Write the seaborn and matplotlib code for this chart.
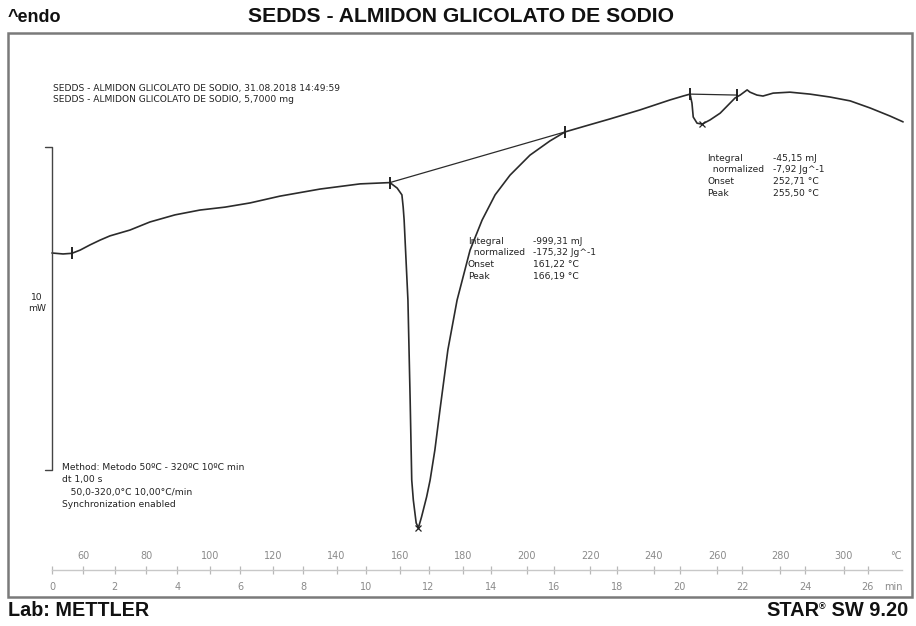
import numpy as np
import pandas as pd
import matplotlib
matplotlib.use("Agg")
import matplotlib.pyplot as plt
import seaborn as sns
from matplotlib.patches import Rectangle

# ---------------- data ----------------
temperature_c = [50.2, 53.7, 56.5, 59.1, 62.2, 65.4, 68.5, 74.8, 81.1, 89.0, 96.9, 104.8,
                 112.7, 122.1, 134.8, 147.4, 156.8, 159.1, 160.6, 161.0, 161.3, 161.9,
                 162.5, 163.2, 163.7, 164.2, 165.1, 165.8, 166.8, 168.4, 169.5, 171.0,
                 172.6, 175.1, 178.0, 182.1, 185.9, 190.0, 194.7, 201.0, 207.3, 212.1,
                 218.4, 226.2, 235.7, 245.2, 249.3, 251.5, 252.1, 252.5, 253.7, 255.3,
                 257.8, 261.0, 263.5, 265.7, 267.3, 269.5, 270.4, 272.6, 274.5, 277.7,
                 283.0, 289.3, 295.6, 302.0, 308.3, 314.6, 318.7]
heat_flow_mw = [0.00, -0.03, -0.01, 0.09, 0.25, 0.40, 0.53, 0.71, 0.96, 1.18, 1.33, 1.42,
                1.55, 1.76, 1.98, 2.14, 2.18, 2.01, 1.80, 1.42, 1.02, -0.22,
                -1.46, -4.55, -7.03, -7.65, -8.36, -8.51, -8.17, -7.55, -7.03, -6.10,
                -4.86, -3.00, -1.46, 0.09, 1.02, 1.80, 2.41, 3.03, 3.47, 3.75,
                3.93, 4.15, 4.43, 4.74, 4.86, 4.92, 4.64, 4.21, 4.02, 3.99,
                4.12, 4.33, 4.58, 4.80, 4.89, 5.05, 4.98, 4.89, 4.86, 4.95,
                4.98, 4.92, 4.83, 4.71, 4.49, 4.24, 4.06]

baseline1_t = [156.8, 212.1]
baseline1_y = [2.18, 3.75]
baseline2_t = [251.5, 266.3]
baseline2_y = [4.92, 4.89]
limit_t = [56.5, 156.8, 212.1, 251.5, 266.3]
limit_y = [-0.01, 2.18, 3.75, 4.92, 4.89]
peak_t = [165.8, 255.3]
peak_y = [-8.51, 3.99]

temp_ticks = [60, 80, 100, 120, 140, 160, 180, 200, 220, 240, 260, 280, 300]
time_ticks = [0, 2, 4, 6, 8, 10, 12, 14, 16, 18, 20, 22, 24, 26]

title = "SEDDS - ALMIDON GLICOLATO DE SODIO"
header_lines = ["SEDDS - ALMIDON GLICOLATO DE SODIO, 31.08.2018 14:49:59",
                "SEDDS - ALMIDON GLICOLATO DE SODIO, 5,7000 mg"]
peak1_labels = ["Integral", "  normalized", "Onset", "Peak"]
peak1_values = ["-999,31 mJ", "-175,32 Jg^-1", "161,22 °C", "166,19 °C"]
peak2_labels = ["Integral", "  normalized", "Onset", "Peak"]
peak2_values = ["-45,15 mJ", "-7,92 Jg^-1", "252,71 °C", "255,50 °C"]
method_lines = ["Method: Metodo 50ºC - 320ºC 10ºC min", "dt 1,00 s",
                "   50,0-320,0°C 10,00°C/min", "Synchronization enabled"]

# ---------------- figure ----------------
sns.set_style("white")
plt.rcParams['font.family'] = ['DejaVu Sans']
W, H = 916, 626
fig = plt.figure(figsize=(W / 100, H / 100), dpi=100)


def fx(x):
    return x / W


def fy(y):
    return 1 - y / H


XL = (36.97, 320.88)
ax = fig.add_axes([fx(10), fy(595), fx(900), (595 - 35) / H])
df = pd.DataFrame({"T": temperature_c, "HF": heat_flow_mw})
sns.lineplot(data=df, x="T", y="HF", ax=ax, color="#2b2b2b", lw=1.2, sort=False)
ax.plot(baseline1_t, baseline1_y, color="#2b2b2b", lw=0.9)
ax.plot(baseline2_t, baseline2_y, color="#2b2b2b", lw=0.9)
ax.plot(limit_t, limit_y, ls="none", marker="|", ms=9, mew=1.4, color="#222")
ax.plot(peak_t, peak_y, ls="none", marker="x", ms=4, mew=0.9, color="#222")
# 10 mW scale bar
ax.plot([48.0, 50.2, 50.2, 48.0], [3.28, 3.28, -6.72, -6.72], color="#444", lw=1.0)
ax.set_xlim(*XL)
ax.set_ylim(-10.59, 6.75)
ax.set_axis_off()

# temperature / time scale
axs = fig.add_axes([fx(10), fy(570), fx(900), 0.00001])
axs.set_xlim(*XL)
axs.set_yticks([])
for s in ["left", "right", "bottom"]:
    axs.spines[s].set_visible(False)
axs.spines["top"].set_bounds(50.2, 318.3)
axs.spines["top"].set_color("#c8c8c8")
axs.spines["top"].set_linewidth(1.0)
axs.xaxis.tick_top()
axs.set_xticks(temp_ticks)
axs.tick_params(axis="x", direction="inout", length=6, width=0.9, color="#b8b8b8",
                labelsize=7, labelcolor="#8a8a8a", pad=3.5)
axs.patch.set_visible(False)

sec = axs.secondary_xaxis("bottom", functions=(lambda T: (np.asarray(T) - 50.2) / 9.9,
                                                lambda t: np.asarray(t) * 9.9 + 50.2))
sec.set_xticks(time_ticks)
sec.spines["bottom"].set_visible(False)
sec.tick_params(axis="x", direction="inout", length=6, width=0.9, color="#b8b8b8",
                labelsize=7, labelcolor="#8a8a8a", pad=5.5)

fig.text(fx(896), fy(556), "°C", fontsize=7, color="#8a8a8a", ha="center", va="center")
fig.text(fx(893), fy(587), "min", fontsize=7, color="#8a8a8a", ha="center", va="center")

# frame
fig.patches.append(Rectangle((fx(8), fy(597)), fx(904), (597 - 33) / H, transform=fig.transFigure,
                             fill=False, edgecolor="#7a7a7a", lw=1.8))

# headings
bold = dict(family=["Liberation Sans", "DejaVu Sans"], fontweight="bold", color="#111")
fig.text(fx(461), fy(17), title, fontsize=15.2, ha="center", va="center", **bold)
fig.text(fx(8), fy(17), "^endo", fontsize=13, ha="left", va="center", **bold)
fig.text(fx(8), fy(611), "Lab: METTLER", fontsize=14.2, ha="left", va="center", **bold)

renderer = fig.canvas.get_renderer()
t_sw = fig.text(fx(908), fy(611), " SW 9.20", fontsize=14.4, ha="right", va="center", **bold)
bb = t_sw.get_window_extent(renderer)
t_r = fig.text(bb.x0 / W, fy(607), "®", fontsize=6.5, ha="right", va="center", **bold)
bb2 = t_r.get_window_extent(renderer)
fig.text(bb2.x0 / W, fy(611), "STAR", fontsize=14.4, ha="right", va="center", **bold)

small = dict(fontsize=6.6, color="#222", va="center")
for i, line in enumerate(header_lines):
    fig.text(fx(53), fy(88 + 12 * i), line, ha="left", **small)
for i, (lab, val) in enumerate(zip(peak1_labels, peak1_values)):
    fig.text(fx(468), fy(241 + 11.8 * i), lab, ha="left", **small)
    fig.text(fx(533), fy(241 + 11.8 * i), val, ha="left", **small)
for i, (lab, val) in enumerate(zip(peak2_labels, peak2_values)):
    fig.text(fx(707), fy(158 + 11.8 * i), lab, ha="left", **small)
    fig.text(fx(773), fy(158 + 11.8 * i), val, ha="left", **small)
for i, line in enumerate(method_lines):
    fig.text(fx(62), fy(467 + 12.5 * i), line, ha="left", **small)
fig.text(fx(37), fy(297), "10", ha="center", **small)
fig.text(fx(37), fy(309), "mW", ha="center", **small)

fig.savefig("out.png", dpi=100, facecolor="white")
